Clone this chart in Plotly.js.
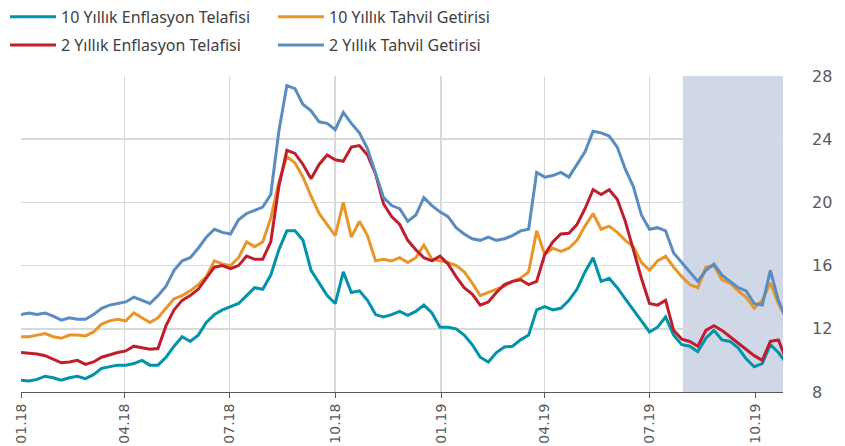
<!DOCTYPE html>
<html>
<head>
<meta charset="utf-8">
<script src="https://cdn.plot.ly/plotly-3.0.1.min.js"></script>
<style>html,body{margin:0;padding:0;background:#fff;}#chart{width:845px;height:446px;}</style>
</head>
<body>
<div id="chart"></div>
<script>
// Weekly observations starting 2018-01-01
var startDate = "2018-01-01";
var seriesNames = ["10 Yıllık Enflasyon Telafisi", "10 Yıllık Tahvil Getirisi", "2 Yıllık Enflasyon Telafisi", "2 Yıllık Tahvil Getirisi"];
var seriesColors = ["#0093AB", "#E8952A", "#BF1E2E", "#5B8CC0"];
var seriesLegends = ["legend", "legend", "legend2", "legend2"];

var be10 = [8.75,8.7,8.8,9.0,8.9,8.75,8.9,9.0,8.85,9.1,9.5,9.6,9.7,9.7,9.8,10.0,9.7,9.7,10.2,10.9,
  11.5,11.2,11.6,12.4,12.9,13.2,13.4,13.6,14.1,14.6,14.5,15.4,17.0,18.2,18.2,17.6,15.7,14.9,14.1,13.6,
  15.6,14.3,14.4,13.8,12.9,12.75,12.9,13.1,12.85,13.1,13.5,13.0,12.1,12.1,12.0,11.6,11.0,10.2,9.9,10.5,
  10.85,10.9,11.3,11.6,13.2,13.4,13.2,13.3,13.8,14.5,15.6,16.5,15.0,15.2,14.6,13.9,13.2,12.5,11.8,12.1,
  12.75,11.6,11.0,10.9,10.55,11.4,11.9,11.3,11.2,10.8,10.1,9.6,9.8,11.0,10.5,9.8];
var bond10 = [11.5,11.5,11.6,11.7,11.5,11.4,11.6,11.6,11.55,11.8,12.3,12.5,12.6,12.5,13.0,12.7,12.4,12.7,13.3,13.9,
  14.1,14.4,14.8,15.3,16.3,16.1,16.0,16.5,17.5,17.2,17.5,19.0,21.3,22.9,22.5,21.6,20.4,19.3,18.6,17.9,
  20.0,17.8,18.8,17.9,16.3,16.4,16.3,16.5,16.2,16.5,17.3,16.4,16.3,16.2,16.0,15.6,14.9,14.1,14.3,14.5,
  14.7,15.0,15.2,15.6,18.2,16.7,17.1,16.9,17.1,17.6,18.5,19.3,18.3,18.5,18.1,17.6,17.2,16.2,15.7,16.3,
  16.6,15.9,15.3,14.8,14.6,15.9,16.0,15.1,14.9,14.4,14.0,13.3,13.8,14.9,13.6,12.6];
var be2 = [10.5,10.45,10.4,10.3,10.1,9.85,9.9,10.0,9.75,9.9,10.2,10.35,10.5,10.6,10.9,10.8,10.7,10.75,12.2,13.2,
  13.8,14.1,14.5,15.2,15.9,16.0,15.8,16.0,16.6,16.4,16.4,17.5,21.0,23.3,23.1,22.4,21.5,22.4,23.0,22.7,
  22.6,23.5,23.6,23.0,21.8,19.9,19.1,18.6,17.6,17.0,16.5,16.3,16.6,16.1,15.3,14.6,14.2,13.5,13.7,14.3,
  14.8,15.0,15.1,14.8,15.0,16.7,17.5,18.0,18.05,18.6,19.6,20.8,20.5,20.8,20.2,18.8,17.0,15.2,13.6,13.5,
  13.8,11.9,11.35,11.2,10.9,11.9,12.2,11.9,11.5,11.1,10.7,10.3,10.0,11.2,11.3,10.0];
var bond2 = [12.9,13.0,12.9,13.0,12.8,12.55,12.7,12.6,12.6,12.9,13.3,13.5,13.6,13.7,14.0,13.8,13.6,14.1,14.7,15.7,
  16.3,16.5,17.1,17.8,18.3,18.1,18.0,18.9,19.3,19.5,19.7,20.5,24.5,27.4,27.2,26.2,25.8,25.1,25.0,24.6,
  25.7,25.0,24.4,23.4,21.9,20.3,19.8,19.6,18.8,19.2,20.3,19.8,19.4,19.1,18.4,18.0,17.7,17.6,17.8,17.6,
  17.7,17.9,18.2,18.3,21.9,21.6,21.7,21.9,21.6,22.4,23.2,24.5,24.4,24.2,23.5,22.1,21.0,19.2,18.3,18.4,
  18.2,16.8,16.2,15.6,15.0,15.7,16.1,15.4,15.0,14.6,14.4,13.6,13.5,15.7,13.8,12.6];

var shadeStart = "2019-07-30";
var rangeEnd = "2019-10-25";
var yRange = [8, 28];

var dates = [];
for (var i = 0; i < be10.length; i++) {
  var d = new Date(Date.UTC(2018, 0, 1 + 7 * i));
  dates.push(d.toISOString().slice(0, 10));
}

var allSeries = [be10, bond10, be2, bond2];
var traces = allSeries.map(function (vals, k) {
  return {
    x: dates, y: vals, type: "scatter", mode: "lines",
    name: seriesNames[k], legend: seriesLegends[k],
    line: {color: seriesColors[k], width: 3, shape: "linear"},
    hoverinfo: "skip"
  };
});

function legendSpec(yPos) {
  return {
    orientation: "h", x: -0.021, xanchor: "left", y: yPos, yanchor: "middle",
    entrywidth: 207, entrywidthmode: "pixels", itemwidth: 46,
    font: {family: "Noto Sans, sans-serif", size: 16, color: "#404040"},
    bgcolor: "rgba(0,0,0,0)", traceorder: "normal"
  };
}

var layout = {
  width: 845, height: 446,
  margin: {l: 21, r: 62, t: 76, b: 54, pad: 0, autoexpand: false},
  paper_bgcolor: "#ffffff", plot_bgcolor: "#ffffff",
  font: {family: "DejaVu Sans, sans-serif", color: "#595959"},
  showlegend: true,
  legend: legendSpec(1.187),
  legend2: legendSpec(1.098),
  xaxis: {
    type: "date", range: [startDate, rangeEnd],
    tick0: startDate, dtick: "M3", tickformat: "%m.%y",
    tickangle: -90, ticks: "outside", ticklen: 5, tickcolor: "#595959",
    showline: true, linecolor: "#595959", linewidth: 1,
    showgrid: true, gridcolor: "#D9D9D9", gridwidth: 1.5,
    zeroline: false, tickfont: {size: 14, color: "#595959"}
  },
  yaxis: {
    side: "right", range: yRange, dtick: 4, tick0: 8,
    showgrid: true, gridcolor: "#D9D9D9", gridwidth: 1.5,
    zeroline: false, showline: false, ticks: "",
    ticklabelstandoff: 28,
    tickfont: {size: 16, color: "#595959"}
  },
  shapes: [{
    type: "rect", xref: "x", yref: "paper",
    x0: shadeStart, x1: rangeEnd, y0: 0, y1: 1,
    fillcolor: "#D0D8E8", line: {width: 0}, layer: "between"
  }]
};

Plotly.newPlot("chart", traces, layout, {staticPlot: true, displayModeBar: false});
</script>
</body>
</html>
